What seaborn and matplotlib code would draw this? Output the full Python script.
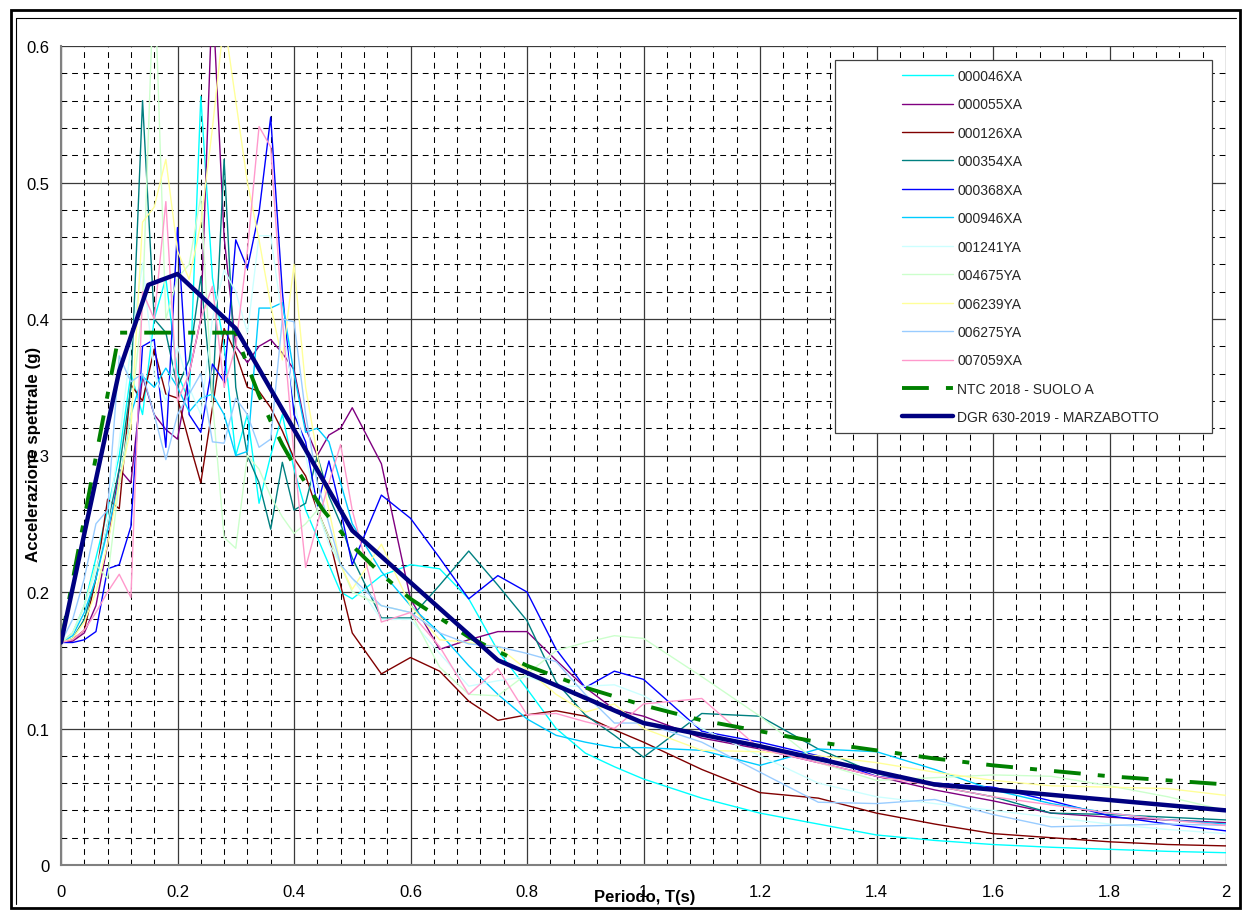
import numpy as np
import pandas as pd
import matplotlib
matplotlib.use("Agg")
import matplotlib.pyplot as plt
from matplotlib.patches import Rectangle
from matplotlib.lines import Line2D
import seaborn as sns

# ---------------- data ----------------
periods = [0.00, 0.02, 0.04, 0.06, 0.08, 0.10, 0.12, 0.14, 0.16, 0.18,
           0.20, 0.22, 0.24, 0.26, 0.28, 0.30, 0.32, 0.34, 0.36, 0.38,
           0.40, 0.42, 0.44, 0.46, 0.48, 0.50, 0.55, 0.60, 0.65, 0.70,
           0.75, 0.80, 0.85, 0.90, 0.95, 1.00, 1.10, 1.20, 1.30, 1.40,
           1.50, 1.60, 1.70, 1.80, 1.90, 2.00]

rec_000046XA = [0.163, 0.170, 0.190, 0.225, 0.260, 0.300, 0.360, 0.330, 0.400, 0.430,
                0.360, 0.340, 0.563, 0.430, 0.380, 0.300, 0.330, 0.265, 0.300, 0.330,
                0.290, 0.260, 0.240, 0.220, 0.200, 0.195, 0.212, 0.220, 0.217, 0.195,
                0.157, 0.129, 0.100, 0.082, 0.072, 0.063, 0.049, 0.038, 0.030, 0.022,
                0.018, 0.015, 0.013, 0.0115, 0.010, 0.009]
rec_000055XA = [0.163, 0.164, 0.170, 0.190, 0.235, 0.290, 0.280, 0.358, 0.330, 0.319,
                0.312, 0.360, 0.400, 0.640, 0.460, 0.380, 0.368, 0.380, 0.385, 0.375,
                0.363, 0.320, 0.300, 0.315, 0.320, 0.335, 0.294, 0.195, 0.158, 0.165,
                0.171, 0.171, 0.150, 0.130, 0.114, 0.109, 0.093, 0.085, 0.075, 0.065,
                0.055, 0.047, 0.038, 0.035, 0.033, 0.031]
rec_000126XA = [0.163, 0.165, 0.172, 0.210, 0.268, 0.261, 0.352, 0.340, 0.378, 0.345,
                0.342, 0.310, 0.280, 0.335, 0.393, 0.375, 0.350, 0.347, 0.335, 0.318,
                0.298, 0.285, 0.260, 0.240, 0.205, 0.170, 0.140, 0.152, 0.142, 0.120,
                0.106, 0.110, 0.113, 0.109, 0.099, 0.090, 0.070, 0.053, 0.049, 0.038,
                0.030, 0.023, 0.020, 0.017, 0.015, 0.014]
rec_000354XA = [0.163, 0.166, 0.180, 0.210, 0.250, 0.290, 0.350, 0.560, 0.400, 0.390,
                0.350, 0.370, 0.431, 0.340, 0.517, 0.350, 0.300, 0.280, 0.246, 0.295,
                0.260, 0.265, 0.300, 0.270, 0.250, 0.225, 0.181, 0.181, 0.205, 0.230,
                0.205, 0.179, 0.134, 0.110, 0.095, 0.079, 0.111, 0.109, 0.085, 0.067,
                0.058, 0.050, 0.038, 0.037, 0.035, 0.033]
rec_000368XA = [0.163, 0.163, 0.165, 0.171, 0.217, 0.220, 0.248, 0.380, 0.385, 0.306,
                0.467, 0.330, 0.317, 0.367, 0.354, 0.458, 0.437, 0.478, 0.548, 0.420,
                0.330, 0.310, 0.263, 0.296, 0.260, 0.220, 0.271, 0.254, 0.225, 0.195,
                0.212, 0.200, 0.158, 0.130, 0.142, 0.136, 0.098, 0.090, 0.080, 0.065,
                0.060, 0.057, 0.047, 0.036, 0.030, 0.025]
rec_000946XA = [0.163, 0.168, 0.185, 0.210, 0.245, 0.280, 0.330, 0.358, 0.350, 0.364,
                0.350, 0.332, 0.342, 0.345, 0.330, 0.300, 0.303, 0.408, 0.408, 0.412,
                0.360, 0.317, 0.320, 0.310, 0.280, 0.250, 0.215, 0.190, 0.170, 0.146,
                0.125, 0.107, 0.095, 0.090, 0.086, 0.086, 0.084, 0.073, 0.085, 0.083,
                0.070, 0.055, 0.045, 0.038, 0.033, 0.030]
rec_001241YA = [0.163, 0.170, 0.190, 0.215, 0.250, 0.310, 0.380, 0.441, 0.360, 0.340,
                0.380, 0.350, 0.330, 0.400, 0.436, 0.420, 0.390, 0.461, 0.461, 0.400,
                0.340, 0.300, 0.260, 0.235, 0.220, 0.210, 0.180, 0.180, 0.155, 0.131,
                0.135, 0.138, 0.131, 0.131, 0.132, 0.124, 0.100, 0.080, 0.060, 0.050,
                0.045, 0.040, 0.035, 0.030, 0.026, 0.023]
rec_004675YA = [0.163, 0.170, 0.190, 0.220, 0.210, 0.280, 0.330, 0.410, 0.660, 0.400,
                0.430, 0.440, 0.490, 0.340, 0.240, 0.232, 0.300, 0.290, 0.270, 0.255,
                0.243, 0.250, 0.260, 0.240, 0.220, 0.200, 0.190, 0.185, 0.145, 0.125,
                0.124, 0.140, 0.157, 0.163, 0.168, 0.166, 0.138, 0.109, 0.075, 0.062,
                0.064, 0.066, 0.065, 0.058, 0.050, 0.040]
rec_006239YA = [0.163, 0.166, 0.178, 0.200, 0.235, 0.280, 0.320, 0.471, 0.482, 0.517,
                0.450, 0.429, 0.470, 0.540, 0.620, 0.560, 0.500, 0.458, 0.410, 0.370,
                0.440, 0.350, 0.300, 0.260, 0.220, 0.202, 0.235, 0.190, 0.165, 0.163,
                0.160, 0.143, 0.125, 0.112, 0.118, 0.100, 0.084, 0.083, 0.080, 0.075,
                0.068, 0.062, 0.058, 0.057, 0.056, 0.051]
rec_006275YA = [0.163, 0.180, 0.210, 0.250, 0.260, 0.373, 0.354, 0.360, 0.330, 0.297,
                0.330, 0.345, 0.360, 0.310, 0.309, 0.342, 0.330, 0.306, 0.312, 0.400,
                0.398, 0.330, 0.280, 0.250, 0.220, 0.210, 0.190, 0.185, 0.170, 0.162,
                0.160, 0.155, 0.149, 0.125, 0.104, 0.104, 0.090, 0.068, 0.046, 0.045,
                0.048, 0.037, 0.028, 0.029, 0.030, 0.029]
rec_007059XA = [0.163, 0.165, 0.172, 0.185, 0.200, 0.213, 0.196, 0.420, 0.400, 0.486,
                0.340, 0.360, 0.400, 0.424, 0.350, 0.380, 0.450, 0.541, 0.526, 0.400,
                0.300, 0.218, 0.250, 0.280, 0.308, 0.260, 0.178, 0.185, 0.160, 0.125,
                0.144, 0.110, 0.111, 0.105, 0.100, 0.118, 0.122, 0.085, 0.075, 0.065,
                0.058, 0.050, 0.044, 0.038, 0.033, 0.029]

record_names = ["000046XA", "000055XA", "000126XA", "000354XA", "000368XA", "000946XA",
                "001241YA", "004675YA", "006239YA", "006275YA", "007059XA"]
record_colors = ["#00FFFF", "#800080", "#800000", "#008080", "#0000FF", "#00CCFF",
                 "#CCFFFF", "#CCFFCC", "#FFFF99", "#99CCFF", "#FF99CC"]

ntc_periods = [0.0, 0.1, 0.3, 0.32, 0.34, 0.36, 0.38, 0.40, 0.45, 0.50, 0.55, 0.60,
               0.70, 0.80, 0.90, 1.00, 1.10, 1.20, 1.30, 1.40, 1.50, 1.60, 1.70,
               1.80, 1.90, 2.00]
ntc_values = [0.163, 0.390, 0.390, 0.366, 0.344, 0.325, 0.308, 0.293, 0.260, 0.234,
              0.213, 0.195, 0.167, 0.146, 0.130, 0.117, 0.106, 0.098, 0.090, 0.084,
              0.078, 0.073, 0.069, 0.065, 0.062, 0.059]
ntc_label = "NTC 2018 - SUOLO A"

dgr_periods = [0.0, 0.1, 0.15, 0.2, 0.3, 0.5, 0.75, 1.0, 1.2, 1.5, 2.0]
dgr_values = [0.163, 0.362, 0.425, 0.433, 0.393, 0.245, 0.150, 0.104, 0.087, 0.059, 0.040]
dgr_label = "DGR 630-2019 - MARZABOTTO"

x_ticks = [0, 0.2, 0.4, 0.6, 0.8, 1.0, 1.2, 1.4, 1.6, 1.8, 2.0]
x_tick_labels = ["0", "0.2", "0.4", "0.6", "0.8", "1", "1.2", "1.4", "1.6", "1.8", "2"]
y_ticks = [0, 0.1, 0.2, 0.3, 0.4, 0.5, 0.6]
y_tick_labels = ["0", "0.1", "0.2", "0.3", "0.4", "0.5", "0.6"]
x_title = "Periodo, T(s)"
y_title = "Accelerazione spettrale (g)"

# ---------------- style ----------------
sns.set_theme(style="white")
plt.rcParams["font.family"] = ["Liberation Sans", "DejaVu Sans"]

W, H = 1244, 912
fig = plt.figure(figsize=(W / 100, H / 100), dpi=100)
fig.patch.set_facecolor("white")
ax = fig.add_axes([61 / W, 1 - 866 / H, 1165 / W, 819 / H])
ax.set_facecolor("white")

recs = [rec_000046XA, rec_000055XA, rec_000126XA, rec_000354XA, rec_000368XA,
        rec_000946XA, rec_001241YA, rec_004675YA, rec_006239YA, rec_006275YA,
        rec_007059XA]

for name, col, vals in zip(record_names, record_colors, recs):
    df = pd.DataFrame({"T": periods, "Sa": vals})
    sns.lineplot(data=df, x="T", y="Sa", ax=ax, color=col, lw=1.0,
                 estimator=None, sort=False, label=name, zorder=2)

df_ntc = pd.DataFrame({"T": ntc_periods, "Sa": ntc_values})
sns.lineplot(data=df_ntc, x="T", y="Sa", ax=ax, color="#008000", lw=2.8,
             estimator=None, sort=False, label=ntc_label, zorder=3)
ntc_line = ax.get_lines()[-1]
ntc_line.set_dashes([6.9, 4.4, 1.8, 4.4])
ntc_line.set_dash_capstyle("butt")

df_dgr = pd.DataFrame({"T": dgr_periods, "Sa": dgr_values})
sns.lineplot(data=df_dgr, x="T", y="Sa", ax=ax, color="#000080", lw=3.2,
             estimator=None, sort=False, label=dgr_label, zorder=4)

ax.set_xlim(0, 2)
ax.set_ylim(0, 0.6)
ax.set_xticks(x_ticks)
ax.set_xticklabels(x_tick_labels)
ax.set_yticks(y_ticks)
ax.set_yticklabels(y_tick_labels)
ax.set_xticks(np.arange(0, 2.0001, 0.04), minor=True)
ax.set_yticks(np.arange(0, 0.6001, 0.02), minor=True)
ax.set_axisbelow(True)
ax.grid(which="minor", color="black", lw=0.75, ls=(0, (5.6, 4.6)))
ax.grid(which="major", color="#3a3a3a", lw=0.9, ls="-")
ax.tick_params(which="major", direction="out", length=4, width=1, color="#808080",
               labelsize=12, pad=10, labelcolor="black")
ax.tick_params(which="minor", length=0)
ax.tick_params(axis="y", pad=4.5)
for s in ["top", "right"]:
    ax.spines[s].set_visible(False)
for s in ["left", "bottom"]:
    ax.spines[s].set_color("#808080")
    ax.spines[s].set_linewidth(1.5)
ax.set_xlabel("")
ax.set_ylabel("")

ax.text(0.501, -0.0385, x_title, transform=ax.transAxes, ha="center", va="center",
        fontsize=12, fontweight="bold", color="black")
ax.text(-0.0235, 0.502, y_title, transform=ax.transAxes, ha="center", va="center",
        rotation=90, fontsize=12.2, fontweight="bold", color="black")

# legend box
ax.add_patch(Rectangle(((835 - 61) / 1165, (866 - 434) / 819), 377 / 1165, 373 / 819,
                       transform=ax.transAxes, facecolor="white", edgecolor="#404040",
                       lw=0.9, zorder=6))
handles, labels = ax.get_legend_handles_labels()
leg = ax.legend(handles, labels, loc="upper left",
                bbox_to_anchor=((902 - 61) / 1165, (866 - 70) / 819),
                frameon=False, fontsize=10, handlelength=3.67, handletextpad=0.29,
                labelspacing=1.04, borderpad=0, borderaxespad=0)
leg.set_zorder(7)

# chart-area frame
fig.patches.append(Rectangle((11 / W, 1 - 909 / H), (1240 - 11) / W, (909 - 11) / H,
                             transform=fig.transFigure, fill=False, ec="black", lw=2.0))
fig.lines.append(Line2D([16 / W, 16 / W], [1 - 19 / H, 1 - 905 / H],
                        transform=fig.transFigure, color="black", lw=0.8))
fig.lines.append(Line2D([16 / W, 1236 / W], [1 - 19 / H, 1 - 19 / H],
                        transform=fig.transFigure, color="black", lw=0.8))

fig.savefig("out.png", dpi=100, facecolor="white")
